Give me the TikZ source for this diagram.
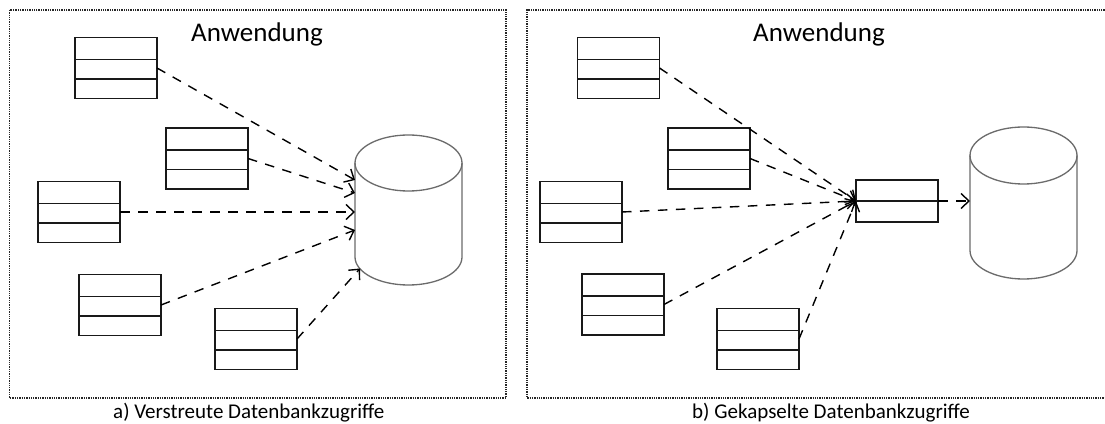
\documentclass[tikz,border=0pt]{standalone}
\usepackage{fontspec}
\setmainfont{Carlito}
\usetikzlibrary{arrows.meta,calc}
\tikzset{
  cls/.style={draw=black!90, line width=1.5pt, minimum width=82pt, minimum height=61pt,
    inner sep=0pt, outer sep=0pt,
    path picture={
      \draw[line width=1.5pt,black!90]
        ($(path picture bounding box.north west)!0.36!(path picture bounding box.south west)$) --
        ($(path picture bounding box.north east)!0.36!(path picture bounding box.south east)$);
      \draw[line width=1.5pt,black!90]
        ($(path picture bounding box.north west)!0.68!(path picture bounding box.south west)$) --
        ($(path picture bounding box.north east)!0.68!(path picture bounding box.south east)$);
    }},
  facadebox/.style={draw=black!90, line width=1.5pt, minimum width=82pt, minimum height=42pt,
    inner sep=0pt, outer sep=0pt,
    path picture={
      \draw[line width=1.5pt,black!90]
        (path picture bounding box.west) -- (path picture bounding box.east);
    }},
  dbbox/.style={minimum width=107pt, minimum height=152pt, inner sep=0pt, outer sep=0pt},
  dbline/.style={draw=black!58, line width=1.3pt},
  conn/.style={black, line width=1.4pt, dash pattern=on 9.5pt off 8.5pt,
    -{Straight Barb[length=8pt,width=15pt,line width=1.4pt]}},
  framebox/.style={black!85, line width=1.1pt, dash pattern=on 1.3pt off 1pt},
  titletext/.style={anchor=base west, inner sep=0pt, font=\fontsize{27}{32}\selectfont},
  captext/.style={anchor=base west, inner sep=0pt, font=\fontsize{21}{25}\selectfont},
}
\newcommand\dbcylinder[4]{%
  \draw[dbline] (#1-53.5,#2) -- (#1-53.5,#3)
    arc[start angle=180,end angle=360,x radius=53.5,y radius=#4] -- (#1+53.5,#2);
  \draw[dbline] (#1,#2) ellipse[x radius=53.5,y radius=#4];
}
\begin{document}
\begin{tikzpicture}[x=1pt,y=1pt]
\useasboundingbox (0,0) rectangle (1105,423);
\fill[white] (0,0) rectangle (1105,423);

% ---------- frames ----------
\draw[framebox] (9.5,413) rectangle (506,25);
\draw[framebox] (1107,413) -- (527,413) -- (527,25) -- (1107,25);

% ---------- titles & captions ----------
\node[titletext] (titleL) at (191,381) {Anwendung};
\node[titletext] (titleR) at (753,381) {Anwendung};
\node[captext] (capL) at (113,5) {a) Verstreute Datenbankzugriffe};
\node[captext] (capR) at (692,5) {b) Gekapselte Datenbankzugriffe};

% ---------- left panel ----------
\node[cls] (a1) at (116,355) {};
\node[cls] (a2) at (207,264.5) {};
\node[cls] (a3) at (79,211) {};
\node[cls] (a4) at (120,118) {};
\node[cls] (a5) at (256,84) {};

\node[dbbox] (dbL) at (408.5,213) {};
\dbcylinder{408.5}{260}{166}{28}
\coordinate (tL1) at (355,243);
\coordinate (tL2) at (355,230);
\coordinate (tL3) at (355,211);
\coordinate (tL4) at (355,193);
\coordinate (tL5) at (360,154.5);

\draw[conn] (a1.east) -- (tL1);
\draw[conn] (a2.east) -- (tL2);
\draw[conn] (a3.east) -- (tL3);
\draw[conn] (a4.east) -- (tL4);
\draw[conn] (a5.east) -- (tL5);

% ---------- right panel ----------
\node[cls] (b1) at (618.5,355) {};
\node[cls] (b2) at (709,264.5) {};
\node[cls] (b3) at (581,211) {};
\node[cls] (b4) at (623,118.5) {};
\node[cls] (b5) at (758,84) {};

\node[facadebox] (fac) at (897,222) {};

\node[dbbox] (dbR) at (1023.5,220) {};
\dbcylinder{1023.5}{267.5}{172.5}{28.5}
\coordinate (tR) at (970,222);

\draw[conn] (b1.east) -- (fac.west);
\draw[conn] (b2.east) -- (fac.west);
\draw[conn] (b3.east) -- (fac.west);
\draw[conn] (b4.east) -- (fac.west);
\draw[conn] (b5.east) -- (fac.west);
\draw[conn] (fac.east) -- (tR);
\end{tikzpicture}
\end{document}
